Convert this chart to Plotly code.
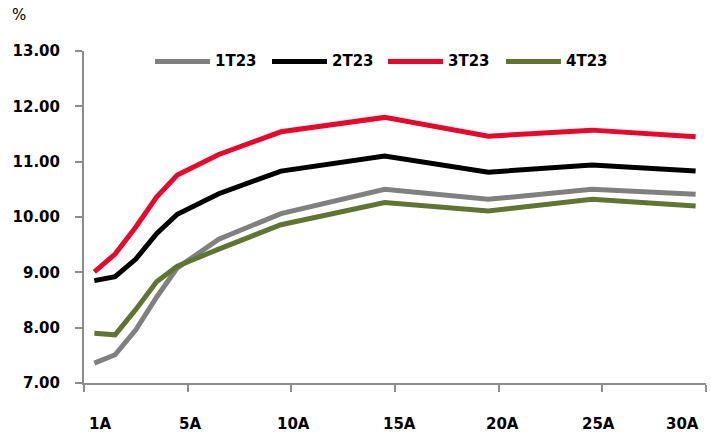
import plotly.graph_objects as go

# ---- data ----
years = [1, 2, 3, 4, 5, 7, 10, 15, 20, 25, 30]
series_names = ["1T23", "2T23", "3T23", "4T23"]
s_1t23 = [7.36, 7.51, 7.96, 8.55, 9.08, 9.60, 10.06, 10.50, 10.32, 10.50, 10.41]
s_2t23 = [8.85, 8.92, 9.24, 9.70, 10.05, 10.42, 10.83, 11.10, 10.81, 10.94, 10.83]
s_3t23 = [9.01, 9.33, 9.82, 10.36, 10.76, 11.13, 11.54, 11.80, 11.46, 11.57, 11.45]
s_4t23 = [7.90, 7.87, 8.33, 8.83, 9.11, 9.42, 9.86, 10.26, 10.11, 10.32, 10.20]
x_tick_labels = ["1A", "5A", "10A", "15A", "20A", "25A", "30A"]
y_ticks = [7, 8, 9, 10, 11, 12, 13]

all_series = [s_1t23, s_2t23, s_3t23, s_4t23]
colors = ["#808080", "#000000", "#E8082B", "#5F7531"]

FONT = "DejaVu Sans"
W, H = 711, 436
L, R = 84, 706          # plot area in px
T, B = 51, 383
unit = (R - L) / 30.0   # px per category


def px_to_val(px):
    return (px - L) / unit + 0.5


fig = go.Figure()
for name, vals, c in zip(series_names, all_series, colors):
    fig.add_trace(go.Scatter(x=years, y=vals, name=name, mode="lines",
                             line=dict(color=c, width=5), showlegend=False))

# tick label placement (px) as in the reference
label_px = [100, 190, 293, 399, 502, 598, 682]
annotations = []
for lab, p in zip(x_tick_labels, label_px):
    annotations.append(dict(x=px_to_val(p), y=0, xref="x", yref="paper",
                            text=lab, showarrow=False, yanchor="top",
                            yshift=-30, font=dict(family=FONT, size=15, color="#000000", weight="bold")))

annotations.append(dict(x=(19 - L) / (R - L), y=(B - 15) / (B - T), xref="paper", yref="paper",
                        text="%", showarrow=False, xanchor="center", yanchor="middle",
                        font=dict(family=FONT, size=15, color="#000000", weight="normal")))

# manual legend
shapes = []
leg_start = [155, 272, 388, 506]
leg_y = (B - 61.5) / (B - T)
for name, c, sx in zip(series_names, colors, leg_start):
    shapes.append(dict(type="line", xref="paper", yref="paper",
                       x0=(sx - L) / (R - L), x1=(sx + 55 - L) / (R - L),
                       y0=leg_y, y1=leg_y, line=dict(color=c, width=5)))
    annotations.append(dict(x=(sx + 58 - L) / (R - L), y=leg_y, xref="paper", yref="paper",
                            text=name, showarrow=False, xanchor="left", yanchor="middle",
                            font=dict(family=FONT, size=15, color="#000000", weight="bold")))

fig.update_layout(
    width=W, height=H,
    margin=dict(l=L, r=W - R, t=T, b=H - B, pad=0),
    plot_bgcolor="white", paper_bgcolor="white",
    font=dict(family=FONT, size=15, color="#000000"),
    xaxis=dict(range=[0.5, 30.5], tickvals=[0.5, 5.5, 10.5, 15.5, 20.5, 25.5, 30.5],
               showticklabels=False, ticks="outside", ticklen=7, tickwidth=2,
               tickcolor="#8c8c8c", showline=True, linecolor="#8c8c8c", linewidth=2,
               showgrid=False, zeroline=False),
    yaxis=dict(range=[7, 13], tickvals=y_ticks, tickformat=".2f",
               ticks="outside", ticklen=7, tickwidth=2, tickcolor="#8c8c8c",
               showline=True, linecolor="#8c8c8c", linewidth=2,
               showgrid=False, zeroline=False, ticklabelstandoff=12,
               tickfont=dict(family=FONT, size=15, color="#000000", weight="bold")),
    annotations=annotations,
    shapes=shapes,
    showlegend=False,
)

fig.write_html("out.html")
